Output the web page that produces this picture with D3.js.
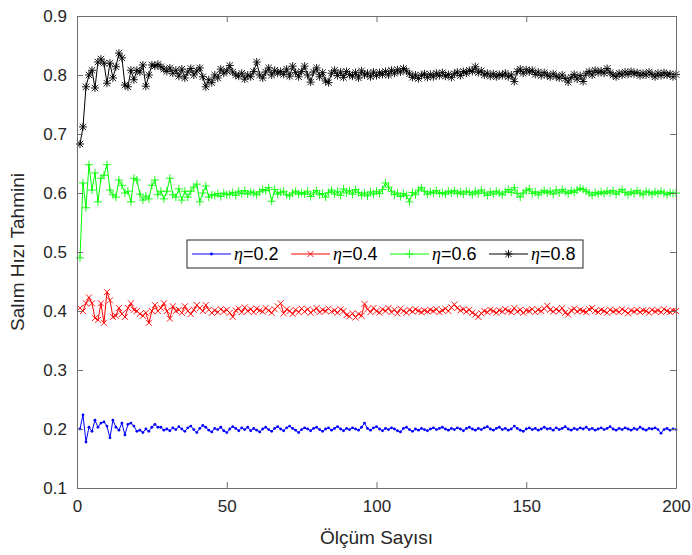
<!DOCTYPE html>
<html>
<head>
<meta charset="utf-8">
<script src="https://cdn.jsdelivr.net/npm/d3@7"></script>
<style>
  body { margin: 0; background: #fff; }
  text { font-family: "Liberation Sans", Arial, sans-serif; }
</style>
</head>
<body>
<div id="chart"></div>
<script>
// series values (x = 1..200)
const eta08 = [
  0.683, 0.712, 0.780, 0.800, 0.808, 0.778, 0.822, 0.827, 0.820, 0.786, 0.820, 0.795, 0.814, 0.837, 0.829, 0.783, 0.780, 0.808, 0.792, 0.808, 0.805, 0.817, 0.781, 0.800, 0.817,
  0.815, 0.818, 0.814, 0.810, 0.806, 0.812, 0.803, 0.808, 0.798, 0.810, 0.795, 0.805, 0.811, 0.800, 0.807, 0.812, 0.797, 0.780, 0.792, 0.787, 0.800, 0.795, 0.810, 0.803, 0.807,
  0.816, 0.805, 0.800, 0.798, 0.803, 0.793, 0.800, 0.797, 0.806, 0.822, 0.800, 0.795, 0.805, 0.812, 0.800, 0.808, 0.803, 0.806, 0.801, 0.810, 0.798, 0.815, 0.804, 0.797, 0.806,
  0.815, 0.800, 0.788, 0.805, 0.812, 0.797, 0.804, 0.790, 0.787, 0.803, 0.808, 0.799, 0.805, 0.796, 0.806, 0.801, 0.798, 0.804, 0.795, 0.807, 0.800, 0.803, 0.797, 0.805, 0.799,
  0.804, 0.801, 0.806, 0.800, 0.808, 0.803, 0.809, 0.805, 0.811, 0.807, 0.802, 0.796, 0.800, 0.794, 0.799, 0.802, 0.796, 0.801, 0.797, 0.803, 0.799, 0.804, 0.798, 0.801, 0.796,
  0.802, 0.805, 0.799, 0.806, 0.803, 0.808, 0.806, 0.814, 0.804, 0.807, 0.800, 0.803, 0.798, 0.802, 0.797, 0.801, 0.799, 0.803, 0.797, 0.800, 0.789, 0.806, 0.810, 0.803, 0.809,
  0.805, 0.808, 0.801, 0.805, 0.799, 0.804, 0.800, 0.797, 0.802, 0.798, 0.795, 0.800, 0.794, 0.788, 0.796, 0.801, 0.793, 0.799, 0.789, 0.802, 0.806, 0.800, 0.808, 0.804, 0.807,
  0.803, 0.811, 0.804, 0.800, 0.797, 0.803, 0.800, 0.805, 0.801, 0.806, 0.802, 0.804, 0.799, 0.803, 0.800, 0.805, 0.801, 0.797, 0.803, 0.799, 0.804, 0.800, 0.802, 0.797, 0.801
];
const eta06 = [
  0.490, 0.617, 0.575, 0.648, 0.605, 0.634, 0.585, 0.625, 0.630, 0.648, 0.605, 0.597, 0.593, 0.622, 0.613, 0.600, 0.603, 0.585, 0.625, 0.622, 0.598, 0.588, 0.595, 0.590, 0.613,
  0.622, 0.597, 0.603, 0.590, 0.603, 0.625, 0.597, 0.593, 0.607, 0.588, 0.603, 0.593, 0.603, 0.610, 0.615, 0.585, 0.600, 0.612, 0.593, 0.597, 0.596, 0.599, 0.594, 0.600, 0.597,
  0.598, 0.601, 0.596, 0.603, 0.599, 0.604, 0.598, 0.602, 0.600, 0.597, 0.602, 0.606, 0.604, 0.609, 0.586, 0.606, 0.598, 0.601, 0.603, 0.597, 0.595, 0.600, 0.603, 0.598, 0.601,
  0.598, 0.603, 0.594, 0.600, 0.604, 0.597, 0.599, 0.593, 0.601, 0.605, 0.598, 0.603, 0.596, 0.607, 0.600, 0.604, 0.598, 0.606, 0.601, 0.596, 0.600, 0.595, 0.602, 0.598, 0.603,
  0.599, 0.606, 0.617, 0.610, 0.603, 0.597, 0.600, 0.594, 0.599, 0.596, 0.585, 0.601, 0.597, 0.605, 0.609, 0.603, 0.598, 0.602, 0.600, 0.604, 0.599, 0.601, 0.598, 0.603, 0.600,
  0.604, 0.599, 0.602, 0.598, 0.603, 0.601, 0.597, 0.603, 0.599, 0.605, 0.600, 0.596, 0.602, 0.598, 0.603, 0.600, 0.597, 0.602, 0.606, 0.601, 0.609, 0.599, 0.593, 0.600, 0.604,
  0.607, 0.599, 0.602, 0.597, 0.601, 0.604, 0.600, 0.603, 0.598, 0.605, 0.600, 0.606, 0.602, 0.599, 0.604, 0.601, 0.605, 0.608, 0.606, 0.603, 0.600, 0.596, 0.601, 0.598, 0.602,
  0.599, 0.603, 0.600, 0.604, 0.598, 0.602, 0.606, 0.601, 0.597, 0.602, 0.599, 0.604, 0.600, 0.597, 0.603, 0.601, 0.598, 0.602, 0.599, 0.603, 0.600, 0.597, 0.601, 0.599, 0.600
];
const eta04 = [
  0.405, 0.400, 0.413, 0.423, 0.413, 0.388, 0.385, 0.413, 0.380, 0.432, 0.418, 0.390, 0.392, 0.405, 0.395, 0.390, 0.405, 0.413, 0.402, 0.400, 0.395, 0.392, 0.397, 0.380, 0.400,
  0.410, 0.400, 0.405, 0.413, 0.400, 0.387, 0.408, 0.400, 0.402, 0.397, 0.408, 0.400, 0.395, 0.402, 0.410, 0.405, 0.400, 0.410, 0.402, 0.397, 0.401, 0.398, 0.403, 0.399, 0.402,
  0.397, 0.390, 0.401, 0.404, 0.398, 0.406, 0.400, 0.403, 0.398, 0.404, 0.401, 0.399, 0.405, 0.401, 0.397, 0.403, 0.408, 0.413, 0.396, 0.403, 0.400, 0.395, 0.402, 0.398, 0.404,
  0.399, 0.403, 0.397, 0.401, 0.405, 0.398, 0.402, 0.400, 0.404, 0.399, 0.401, 0.397, 0.403, 0.400, 0.393, 0.391, 0.396, 0.389, 0.395, 0.392, 0.412, 0.403, 0.398, 0.405, 0.400,
  0.397, 0.403, 0.400, 0.405, 0.398, 0.402, 0.396, 0.404, 0.400, 0.397, 0.402, 0.399, 0.403, 0.400, 0.398, 0.401, 0.399, 0.402, 0.400, 0.403, 0.398, 0.401, 0.404, 0.400, 0.406,
  0.411, 0.405, 0.401, 0.403, 0.399, 0.402, 0.397, 0.394, 0.390, 0.396, 0.400, 0.398, 0.402, 0.400, 0.397, 0.401, 0.399, 0.403, 0.400, 0.398, 0.405, 0.399, 0.402, 0.397, 0.401,
  0.400, 0.403, 0.398, 0.402, 0.400, 0.404, 0.409, 0.402, 0.399, 0.403, 0.400, 0.405, 0.397, 0.394, 0.401, 0.404, 0.399, 0.402, 0.400, 0.398, 0.403, 0.405, 0.400, 0.398, 0.402,
  0.400, 0.397, 0.402, 0.399, 0.401, 0.398, 0.403, 0.400, 0.396, 0.401, 0.399, 0.402, 0.398, 0.401, 0.400, 0.397, 0.402, 0.399, 0.401, 0.398, 0.403, 0.400, 0.398, 0.401, 0.400
];
const eta02 = [
  0.200, 0.224, 0.178, 0.203, 0.196, 0.215, 0.203, 0.210, 0.212, 0.205, 0.185, 0.215, 0.203, 0.198, 0.210, 0.190, 0.208, 0.210, 0.205, 0.196, 0.198, 0.194, 0.200, 0.196, 0.203, 0.208, 0.203, 0.203, 0.198, 0.200,
  0.197, 0.202, 0.199, 0.204, 0.200, 0.196, 0.202, 0.205, 0.199, 0.194, 0.201, 0.206, 0.203, 0.198, 0.195, 0.201, 0.199, 0.203, 0.197, 0.194, 0.200, 0.204, 0.201, 0.197, 0.202,
  0.199, 0.203, 0.197, 0.201, 0.198, 0.195, 0.200, 0.203, 0.199, 0.196, 0.201, 0.204, 0.200, 0.197, 0.202, 0.205, 0.201, 0.198, 0.194, 0.199, 0.202, 0.200, 0.197, 0.201, 0.203,
  0.199, 0.196, 0.200, 0.202, 0.198, 0.201, 0.204, 0.200, 0.197, 0.201, 0.199, 0.202, 0.200, 0.198, 0.203, 0.210, 0.201, 0.198, 0.202, 0.204, 0.200, 0.197, 0.201, 0.199, 0.202,
  0.200, 0.197, 0.195, 0.201, 0.203, 0.199, 0.196, 0.200, 0.198, 0.201, 0.199, 0.197, 0.200, 0.202, 0.199, 0.201, 0.203, 0.200, 0.198, 0.201, 0.199, 0.202, 0.200, 0.197, 0.201,
  0.203, 0.200, 0.198, 0.201, 0.199, 0.202, 0.204, 0.200, 0.198, 0.201, 0.203, 0.199, 0.201, 0.198, 0.200, 0.205, 0.201, 0.198, 0.196, 0.200, 0.202, 0.199, 0.201, 0.198, 0.200,
  0.203, 0.200, 0.201, 0.198, 0.202, 0.199, 0.201, 0.204, 0.200, 0.198, 0.201, 0.199, 0.202, 0.200, 0.203, 0.199, 0.201, 0.198, 0.200, 0.202, 0.199, 0.201, 0.204, 0.200, 0.198,
  0.201, 0.199, 0.202, 0.200, 0.198, 0.201, 0.199, 0.203, 0.200, 0.198, 0.201, 0.200, 0.202, 0.199, 0.193, 0.199, 0.201, 0.198, 0.200, 0.199
];

const seriesNames = ['0.2', '0.4', '0.6', '0.8'];
const seriesColors = ['#0000ff', '#ff0000', '#00ff00', '#000000'];
const seriesMarkers = ['dot', 'x', 'plus', 'star'];
const xTicks = [0, 50, 100, 150, 200];
const yTicks = [0.1, 0.2, 0.3, 0.4, 0.5, 0.6, 0.7, 0.8, 0.9];

const FRAME_WIDTH = 692;
const FRAME_HEIGHT = 555;
const MARGINS = {left: 77, right: 16, top: 16, bottom: 67};
const VIS_WIDTH = FRAME_WIDTH - MARGINS.left - MARGINS.right;
const VIS_HEIGHT = FRAME_HEIGHT - MARGINS.top - MARGINS.bottom;

const svg = d3.select('#chart').append('svg')
    .attr('width', FRAME_WIDTH)
    .attr('height', FRAME_HEIGHT);

const X_SCALE = d3.scaleLinear().domain([0, 200]).range([0, VIS_WIDTH]);
const Y_SCALE = d3.scaleLinear().domain([0.1, 0.9]).range([VIS_HEIGHT, 0]);

const plot = svg.append('g')
    .attr('transform', 'translate(' + MARGINS.left + ',' + MARGINS.top + ')');

// marker path for one point
function markerPath(type, x, y) {
    const p = d3.path();
    if (type === 'plus' || type === 'star') {
        const s = 4;
        p.moveTo(x - s, y); p.lineTo(x + s, y);
        p.moveTo(x, y - s); p.lineTo(x, y + s);
    }
    if (type === 'x' || type === 'star') {
        const s = type === 'x' ? 3 : 3.2;
        p.moveTo(x - s, y - s); p.lineTo(x + s, y + s);
        p.moveTo(x - s, y + s); p.lineTo(x + s, y - s);
    }
    return p.toString();
}

const allSeries = [eta02, eta04, eta06, eta08];

const line = d3.line()
    .x((d, i) => X_SCALE(i + 1))
    .y(d => Y_SCALE(d));

allSeries.forEach((values, k) => {
    const g = plot.append('g');
    g.append('path')
        .datum(values)
        .attr('d', line)
        .attr('fill', 'none')
        .attr('stroke', seriesColors[k])
        .attr('stroke-width', 1);
    if (seriesMarkers[k] === 'dot') {
        g.selectAll('circle')
            .data(values)
            .enter()
            .append('circle')
            .attr('cx', (d, i) => X_SCALE(i + 1))
            .attr('cy', d => Y_SCALE(d))
            .attr('r', 1.4)
            .attr('fill', seriesColors[k]);
    } else {
        g.append('path')
            .attr('d', values.map((d, i) => markerPath(seriesMarkers[k], X_SCALE(i + 1), Y_SCALE(d))).join(''))
            .attr('fill', 'none')
            .attr('stroke', seriesColors[k])
            .attr('stroke-width', 0.9);
    }
});

// axes (ticks inside, box on)
const AXIS_COLOR = '#6e6e6e';
const TICK_LEN = 6;

const xAxis = plot.append('g')
    .attr('transform', 'translate(0,' + VIS_HEIGHT + ')')
    .call(d3.axisBottom(X_SCALE).tickValues(xTicks).tickSizeInner(-TICK_LEN).tickSizeOuter(0).tickPadding(12));
const yAxis = plot.append('g')
    .call(d3.axisLeft(Y_SCALE).tickValues(yTicks).tickFormat(d3.format('.1f')).tickSizeInner(-TICK_LEN).tickSizeOuter(0).tickPadding(10));
const xTop = plot.append('g')
    .call(d3.axisTop(X_SCALE).tickValues(xTicks).tickSizeInner(-TICK_LEN).tickSizeOuter(0).tickFormat(''));
const yRight = plot.append('g')
    .attr('transform', 'translate(' + VIS_WIDTH + ',0)')
    .call(d3.axisRight(Y_SCALE).tickValues(yTicks).tickSizeInner(-TICK_LEN).tickSizeOuter(0).tickFormat(''));

[xAxis, yAxis, xTop, yRight].forEach(a => {
    a.selectAll('path, line').attr('stroke', AXIS_COLOR);
    a.selectAll('text').attr('fill', '#262626').attr('font-size', '17px')
        .attr('font-family', '"Liberation Sans", Arial, sans-serif');
});

// axis titles
svg.append('text')
    .attr('x', MARGINS.left + VIS_WIDTH / 2)
    .attr('y', 544)
    .attr('text-anchor', 'middle')
    .attr('font-size', '19px')
    .attr('fill', '#262626')
    .text('Ölçüm Sayısı');

svg.append('text')
    .attr('transform', 'translate(24,' + (MARGINS.top + VIS_HEIGHT / 2) + ') rotate(-90)')
    .attr('text-anchor', 'middle')
    .attr('font-size', '19px')
    .attr('fill', '#262626')
    .text('Salım Hızı Tahmini');

// legend
const LEG = {x: 187, y: 240, w: 396, h: 28, step: 99};
const legend = svg.append('g');
legend.append('rect')
    .attr('x', LEG.x).attr('y', LEG.y)
    .attr('width', LEG.w).attr('height', LEG.h)
    .attr('fill', '#fff')
    .attr('stroke', '#262626')
    .attr('stroke-width', 1);

seriesNames.forEach((name, k) => {
    const x0 = LEG.x + 5 + k * LEG.step;
    const cy = LEG.y + LEG.h / 2;
    legend.append('line')
        .attr('x1', x0).attr('x2', x0 + 39)
        .attr('y1', cy).attr('y2', cy)
        .attr('stroke', seriesColors[k])
        .attr('stroke-width', 1);
    if (seriesMarkers[k] === 'dot') {
        legend.append('circle').attr('cx', x0 + 19.5).attr('cy', cy).attr('r', 1.4).attr('fill', seriesColors[k]);
    } else {
        legend.append('path')
            .attr('d', markerPath(seriesMarkers[k], x0 + 19.5, cy))
            .attr('fill', 'none')
            .attr('stroke', seriesColors[k])
            .attr('stroke-width', 0.9);
    }
    const t = legend.append('text')
        .attr('x', x0 + 42)
        .attr('y', cy + 6)
        .attr('font-size', '18px')
        .attr('fill', '#000');
    t.append('tspan').attr('font-style', 'italic').attr('font-family', '"Liberation Serif", "Times New Roman", serif').text('η');
    t.append('tspan').text('=' + name);
});
</script>
</body>
</html>
